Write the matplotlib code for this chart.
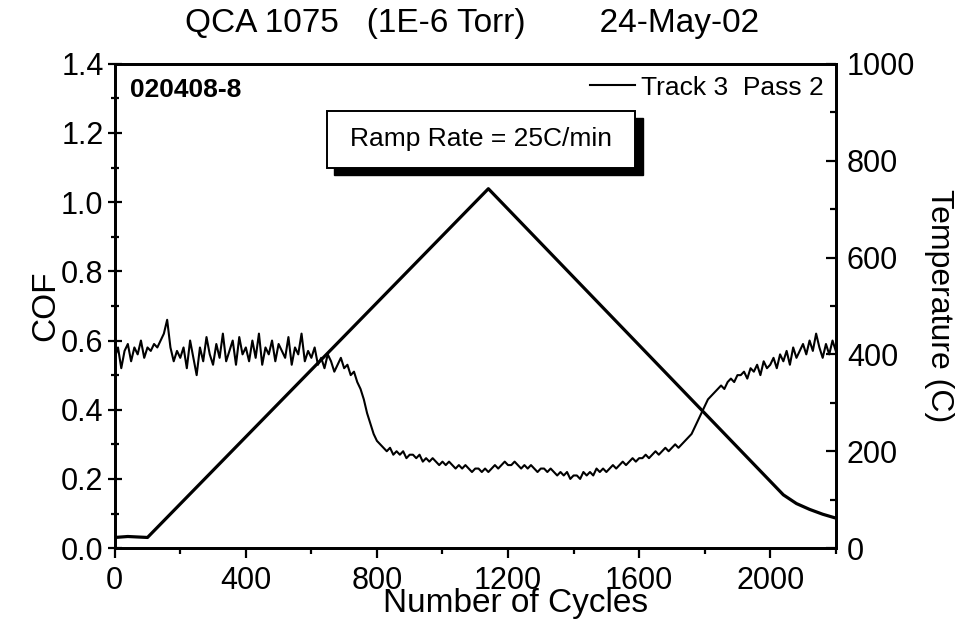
import matplotlib
matplotlib.use('Agg')
import matplotlib.pyplot as plt
from matplotlib.patches import Rectangle
from matplotlib.ticker import MultipleLocator, FormatStrFormatter
import numpy as np

plt.rcParams.update({'font.family': ['Liberation Sans', 'DejaVu Sans']})

# COF, one reading every 10 cycles (0 .. 2200)
cycles = np.arange(0, 2201, 10)
cof = [
    0.55, 0.58, 0.52, 0.57, 0.59, 0.54, 0.58, 0.56, 0.60, 0.55, 0.58, 0.57, 0.59, 0.58, 0.60, 0.62,
    0.66, 0.58, 0.54, 0.57, 0.55,
    0.58, 0.52, 0.60, 0.55, 0.50, 0.58, 0.54, 0.61, 0.56, 0.53, 0.59, 0.55, 0.62, 0.54, 0.57, 0.60, 0.53, 0.61, 0.56, 0.58,
    0.54, 0.60, 0.55, 0.62, 0.53, 0.58, 0.56, 0.60, 0.54, 0.59, 0.57, 0.55, 0.61, 0.53, 0.58, 0.56, 0.62, 0.54, 0.57, 0.55,
    0.58, 0.53, 0.55, 0.52, 0.56, 0.54, 0.51, 0.53, 0.55, 0.52,
    0.53, 0.50, 0.51, 0.48, 0.46, 0.43, 0.39, 0.36, 0.33, 0.31,
    0.30, 0.29, 0.28, 0.29, 0.27, 0.28, 0.27, 0.28, 0.26, 0.27,
    0.27, 0.26, 0.27, 0.25, 0.26, 0.25, 0.26, 0.25, 0.24, 0.25,
    0.24, 0.25, 0.24, 0.23, 0.24, 0.23, 0.24, 0.23, 0.22, 0.23,
    0.23, 0.22, 0.23, 0.22, 0.23, 0.24, 0.23, 0.24, 0.25, 0.24,
    0.24, 0.25, 0.24, 0.23, 0.24, 0.23, 0.24, 0.23, 0.22, 0.23,
    0.23, 0.22, 0.23, 0.22, 0.21, 0.22, 0.21, 0.22, 0.20, 0.21,
    0.21, 0.20, 0.22, 0.21, 0.22, 0.21, 0.23, 0.22, 0.23, 0.22,
    0.23, 0.24, 0.23, 0.24, 0.25, 0.24, 0.25, 0.26, 0.25, 0.26,
    0.26, 0.27, 0.26, 0.27, 0.28, 0.27, 0.28, 0.29, 0.28, 0.29,
    0.30, 0.29, 0.30, 0.31, 0.32, 0.33, 0.35, 0.37, 0.39, 0.41,
    0.43, 0.44, 0.45, 0.46, 0.47, 0.46, 0.48, 0.49, 0.48, 0.50,
    0.50, 0.51, 0.49, 0.52, 0.51, 0.53, 0.50, 0.54, 0.52, 0.53,
    0.55, 0.52, 0.56, 0.54, 0.57, 0.53, 0.58, 0.55, 0.57, 0.59,
    0.56, 0.60, 0.57, 0.62, 0.58, 0.55, 0.59, 0.56, 0.60, 0.57,
]

# temperature profile (right axis)
temp_cycles = [0, 40, 100, 1140, 2040, 2080, 2120, 2160, 2200]
temp_c = [22, 24, 22, 742, 110, 92, 80, 70, 62]

fig = plt.figure(figsize=(9.64, 6.25), dpi=100)
ax = fig.add_axes([0.119, 0.123, 0.748, 0.775])
ax2 = ax.twinx()

ax.plot(cycles, cof, color='black', linewidth=1.5, label='Track 3  Pass 2')
ax2.plot(temp_cycles, temp_c, color='black', linewidth=2.3)

ax.set_xlim(0, 2200)
ax.set_ylim(0, 1.4)
ax2.set_ylim(0, 1000)

ax.xaxis.set_major_locator(MultipleLocator(400))
ax.xaxis.set_minor_locator(MultipleLocator(200))
ax.yaxis.set_major_locator(MultipleLocator(0.2))
ax.yaxis.set_minor_locator(MultipleLocator(0.1))
ax2.yaxis.set_major_locator(MultipleLocator(200))
ax2.yaxis.set_minor_locator(MultipleLocator(100))
ax.yaxis.set_major_formatter(FormatStrFormatter('%.1f'))

ax.tick_params(axis='x', which='both', direction='out', labelsize=22, pad=6)
ax.tick_params(axis='x', which='major', length=7, width=1.6)
ax.tick_params(axis='x', which='minor', length=4, width=1.6)
ax.tick_params(axis='y', which='both', direction='inout', labelsize=22, pad=3)
ax.tick_params(axis='y', which='major', length=10, width=1.6)
ax.tick_params(axis='y', which='minor', length=6, width=1.6)
ax2.tick_params(axis='y', which='both', direction='in', labelsize=22, pad=8)
ax2.tick_params(axis='y', which='major', length=7, width=1.6)
ax2.tick_params(axis='y', which='minor', length=4, width=1.6)

for a in (ax, ax2):
    for s in a.spines.values():
        s.set_linewidth(2.0)

ax.set_ylabel('COF', fontsize=24, labelpad=0)
ax2.set_ylabel('Temperature (C)', fontsize=23, rotation=-90, labelpad=28)
fig.text(0.535, 0.035, 'Number of Cycles', fontsize=24, ha='center', va='center')
fig.text(0.49, 0.962, 'QCA 1075   (1E-6 Torr)        24-May-02', fontsize=24,
         ha='center', va='center')

ax.text(0.021, 0.945, '020408-8', transform=ax.transAxes, fontsize=19,
        fontweight='bold', va='center', ha='left')
ax.legend(loc='upper right', frameon=False, fontsize=19, handlelength=1.7,
          borderaxespad=0.05, handletextpad=0.25)

# ramp rate box with drop shadow
ax.add_patch(Rectangle((0.304, 0.771), 0.428, 0.118, transform=ax.transAxes,
                       facecolor='black', edgecolor='black', zorder=5))
ax.add_patch(Rectangle((0.294, 0.785), 0.428, 0.118, transform=ax.transAxes,
                       facecolor='white', edgecolor='black', linewidth=1.4, zorder=6))
ax.text(0.508, 0.844, 'Ramp Rate = 25C/min', transform=ax.transAxes, fontsize=19,
        ha='center', va='center', zorder=7)

fig.savefig('out.png', dpi=100, facecolor='white')
